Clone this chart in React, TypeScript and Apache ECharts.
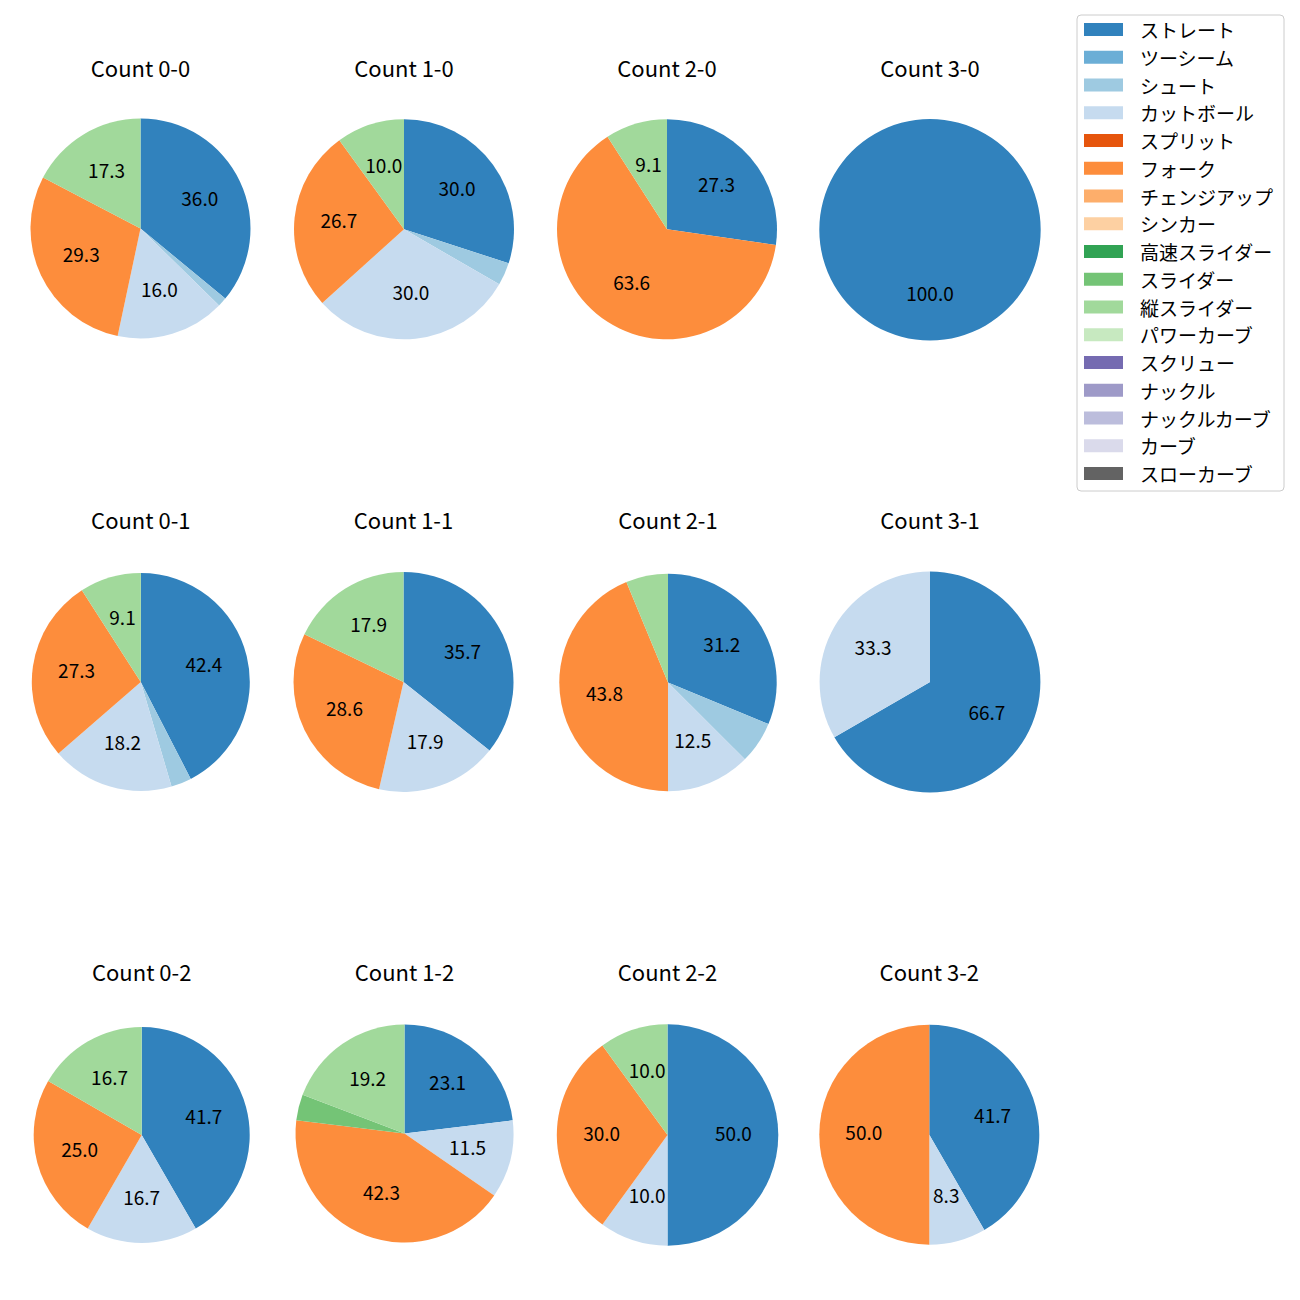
import React, { useEffect, useRef } from "react";
import * as echarts from "echarts";

const pitchTypes = [
  "ストレート", "ツーシーム", "シュート", "カットボール", "スプリット", "フォーク",
  "チェンジアップ", "シンカー", "高速スライダー", "スライダー", "縦スライダー",
  "パワーカーブ", "スクリュー", "ナックル", "ナックルカーブ", "カーブ", "スローカーブ",
];
const pitchColors = [
  "#3182bd", "#6baed6", "#9ecae1", "#c6dbef", "#e6550d", "#fd8d3c", "#fdae6b",
  "#fdd0a2", "#31a354", "#74c476", "#a1d99b", "#c7e9c0", "#756bb1", "#9e9ac8",
  "#bcbddc", "#dadaeb", "#636363",
];

const countTitles = [
  "Count 0-0", "Count 1-0", "Count 2-0", "Count 3-0",
  "Count 0-1", "Count 1-1", "Count 2-1", "Count 3-1",
  "Count 0-2", "Count 1-2", "Count 2-2", "Count 3-2",
];

// pitch counts per type (order of pitchTypes)
const count00 = [27, 0, 1, 12, 0, 22, 0, 0, 0, 0, 13, 0, 0, 0, 0, 0, 0];
const count10 = [9, 0, 1, 9, 0, 8, 0, 0, 0, 0, 3, 0, 0, 0, 0, 0, 0];
const count20 = [3, 0, 0, 0, 0, 7, 0, 0, 0, 0, 1, 0, 0, 0, 0, 0, 0];
const count30 = [1, 0, 0, 0, 0, 0, 0, 0, 0, 0, 0, 0, 0, 0, 0, 0, 0];
const count01 = [14, 0, 1, 6, 0, 9, 0, 0, 0, 0, 3, 0, 0, 0, 0, 0, 0];
const count11 = [10, 0, 0, 5, 0, 8, 0, 0, 0, 0, 5, 0, 0, 0, 0, 0, 0];
const count21 = [5, 0, 1, 2, 0, 7, 0, 0, 0, 0, 1, 0, 0, 0, 0, 0, 0];
const count31 = [2, 0, 0, 1, 0, 0, 0, 0, 0, 0, 0, 0, 0, 0, 0, 0, 0];
const count02 = [5, 0, 0, 2, 0, 3, 0, 0, 0, 0, 2, 0, 0, 0, 0, 0, 0];
const count12 = [6, 0, 0, 3, 0, 11, 0, 0, 0, 1, 5, 0, 0, 0, 0, 0, 0];
const count22 = [5, 0, 0, 1, 0, 3, 0, 0, 0, 0, 1, 0, 0, 0, 0, 0, 0];
const count32 = [5, 0, 0, 1, 0, 6, 0, 0, 0, 0, 0, 0, 0, 0, 0, 0, 0];

const allCounts = [
  count00, count10, count20, count30,
  count01, count11, count21, count31,
  count02, count12, count22, count32,
];

// layout: [cx, cy, r] per panel
const panels = [
  [140.5, 228.5, 110], [404, 229.3, 110], [667, 229.3, 110], [930, 229.8, 110.7],
  [140.8, 682, 109], [403.5, 682, 110], [668, 682.5, 108.7], [930, 682, 110.4],
  [141.7, 1135, 108], [404.5, 1133.5, 109], [667.5, 1135, 110.7], [929.3, 1134.7, 110],
];
const titleY = [66.5, 518.5, 970.5];

const FONT = '"Noto Sans CJK JP", "Noto Sans", sans-serif';

function fmtPct(p: number): string {
  const x = p * 10;
  const f = Math.floor(x);
  const d = x - f;
  let n: number;
  if (Math.abs(d - 0.5) < 1e-9) n = f % 2 === 0 ? f : f + 1;
  else n = Math.round(x);
  return (n / 10).toFixed(1);
}

export default function App() {
  const ref = useRef<HTMLDivElement>(null);
  useEffect(() => {
    document.body.style.margin = "0";
    if (!ref.current) return;
    const chart = echarts.init(ref.current, null, { renderer: "svg" });
    const series: any[] = [];
    const graphics: any[] = [];
    allCounts.forEach((vals, i) => {
      const [cx, cy, r] = panels[i];
      const total = vals.reduce((a, b) => a + b, 0);
      series.push({
        type: "pie",
        center: [cx, cy],
        radius: r,
        startAngle: 90,
        clockwise: true,
        silent: true,
        avoidLabelOverlap: false,
        label: { show: false },
        labelLine: { show: false },
        emphasis: { disabled: true },
        itemStyle: { borderWidth: 0 },
        data: pitchTypes.map((name, k) => ({
          name,
          value: vals[k],
          itemStyle: { color: pitchColors[k], borderWidth: 0 },
        })),
      });
      // invisible companion pie that carries the percentage labels (at ~0.6 r)
      series.push({
        type: "pie",
        center: [cx, cy - 3],
        radius: r * 1.2 - 7,
        startAngle: 90,
        clockwise: true,
        silent: true,
        avoidLabelOverlap: false,
        emphasis: { disabled: true },
        itemStyle: { color: "rgba(0,0,0,0)", borderWidth: 0 },
        labelLine: { show: false },
        label: {
          show: true,
          position: "inside",
          color: "#000",
          fontSize: 19,
          fontFamily: FONT,
          formatter: (p: any) => {
            const pct = (p.value / total) * 100;
            return pct > 7 ? fmtPct(pct) : "";
          },
        },
        data: pitchTypes.map((name, k) => ({ name: "lbl" + i + "_" + k, value: vals[k] })),
      });
      graphics.push({
        type: "text",
        x: cx,
        y: titleY[Math.floor(i / 4)],
        style: {
          text: countTitles[i],
          fontSize: 22,
          fontFamily: FONT,
          fill: "#000",
          align: "center",
          verticalAlign: "middle",
        },
      });
    });
    chart.setOption({
      animation: false,
      backgroundColor: "#fff",
      legend: {
        show: true,
        orient: "vertical",
        left: 1077,
        top: 15,
        padding: [5, 11, 8, 7],
        itemWidth: 39,
        itemHeight: 13,
        itemGap: 8.75,
        icon: "rect",
        selectedMode: false,
        borderColor: "#cccccc",
        borderWidth: 1,
        borderRadius: 4,
        backgroundColor: "#fff",
        textStyle: {
          fontSize: 19,
          lineHeight: 19,
          fontFamily: FONT,
          color: "#000",
          padding: [0, 0, 0, 12],
        },
        data: pitchTypes,
      },
      graphic: graphics,
      series,
    });
    return () => chart.dispose();
  }, []);
  return <div ref={ref} style={{ width: 1300, height: 1300 }} />;
}
